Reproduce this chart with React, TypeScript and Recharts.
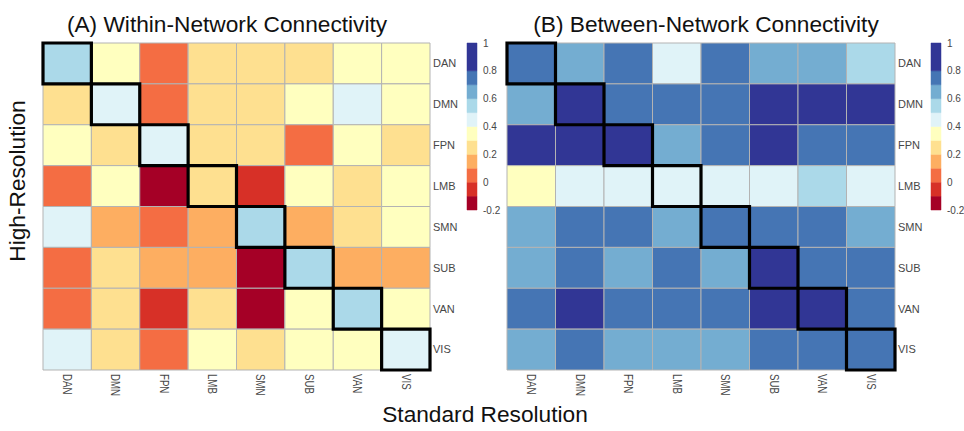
import React from 'react';
import { ComposedChart, XAxis, YAxis, ReferenceArea } from 'recharts';

// ---- Data ----
const networks = ['DAN', 'DMN', 'FPN', 'LMB', 'SMN', 'SUB', 'VAN', 'VIS'];

// (A) Within-Network Connectivity, rows = High-Resolution, cols = Standard Resolution
const withinDAN = [0.55, 0.35, 0.05, 0.25, 0.25, 0.22, 0.35, 0.35];
const withinDMN = [0.25, 0.45, 0.05, 0.25, 0.25, 0.35, 0.45, 0.35];
const withinFPN = [0.35, 0.25, 0.45, 0.25, 0.25, 0.05, 0.35, 0.25];
const withinLMB = [0.05, 0.35, -0.15, 0.25, -0.05, 0.35, 0.25, 0.35];
const withinSMN = [0.45, 0.15, 0.05, 0.15, 0.55, 0.15, 0.25, 0.35];
const withinSUB = [0.05, 0.25, 0.15, 0.15, -0.15, 0.55, 0.15, 0.15];
const withinVAN = [0.05, 0.25, -0.05, 0.25, -0.15, 0.35, 0.55, 0.35];
const withinVIS = [0.45, 0.25, 0.05, 0.35, 0.25, 0.35, 0.35, 0.45];
const withinRows = [withinDAN, withinDMN, withinFPN, withinLMB, withinSMN, withinSUB, withinVAN, withinVIS];

// (B) Between-Network Connectivity
const betweenDAN = [0.75, 0.65, 0.75, 0.45, 0.75, 0.65, 0.65, 0.55];
const betweenDMN = [0.65, 0.9, 0.75, 0.75, 0.75, 0.9, 0.9, 0.9];
const betweenFPN = [0.9, 0.9, 0.9, 0.65, 0.75, 0.9, 0.75, 0.75];
const betweenLMB = [0.35, 0.45, 0.45, 0.45, 0.45, 0.45, 0.55, 0.45];
const betweenSMN = [0.65, 0.75, 0.75, 0.65, 0.75, 0.75, 0.75, 0.65];
const betweenSUB = [0.65, 0.75, 0.65, 0.75, 0.65, 0.9, 0.75, 0.75];
const betweenVAN = [0.75, 0.9, 0.75, 0.75, 0.75, 0.9, 0.9, 0.75];
const betweenVIS = [0.65, 0.75, 0.65, 0.65, 0.65, 0.75, 0.75, 0.75];
const betweenRows = [betweenDAN, betweenDMN, betweenFPN, betweenLMB, betweenSMN, betweenSUB, betweenVAN, betweenVIS];

// Colour scale
const colorBreaks = [-0.2, -0.1, 0, 0.1, 0.2, 0.3, 0.4, 0.5, 0.6, 0.7, 0.8, 1.0];
const colorBands = ['#a50026', '#d73027', '#f46d43', '#fdae61', '#fee090', '#ffffbf', '#e0f3f8', '#abd9e9', '#74add1', '#4575b4', '#313695'];
const colorTicks = [-0.2, 0, 0.2, 0.4, 0.6, 0.8, 1];

const FONT = "'Liberation Sans', Arial, Helvetica, sans-serif";
const LABEL_COLOR = '#474747';

function colorFor(v: number): string {
  for (let i = colorBands.length - 1; i >= 0; i--) {
    if (v >= colorBreaks[i]) return colorBands[i];
  }
  return colorBands[0];
}

const XTick = (props: any) => {
  const { x, y, payload } = props;
  return (
    <text
      x={0}
      y={0}
      transform={`translate(${x} ${y}) rotate(90) scale(0.88 1.1)`}
      textAnchor="start"
      dy="0.35em"
      fontSize={11}
      fill={LABEL_COLOR}
      fontFamily={FONT}
    >
      {networks[Math.floor(payload.value)]}
    </text>
  );
};

const cellTicks = networks.map((_, i) => i + 0.5);

function Heatmap({ rows, width }: { rows: number[][]; width: number }) {
  const cells: React.ReactNode[] = [];
  rows.forEach((row, r) => {
    row.forEach((v, c) => {
      cells.push(
        <ReferenceArea
          key={`c-${r}-${c}`}
          x1={c}
          x2={c + 1}
          y1={r}
          y2={r + 1}
          fill={colorFor(v)}
          fillOpacity={1}
          stroke="#b3b3b3"
          strokeWidth={1}
          ifOverflow="visible"
        />
      );
    });
  });
  const diag = networks.map((_, i) => (
    <ReferenceArea
      key={`d-${i}`}
      x1={i}
      x2={i + 1}
      y1={i}
      y2={i + 1}
      fill="none"
      fillOpacity={0}
      stroke="#000"
      strokeWidth={3.2}
      ifOverflow="visible"
    />
  ));
  return (
    <ComposedChart width={width} height={431} margin={{ top: 43, left: 43, right: 10, bottom: 21 }}>
      <XAxis
        type="number"
        dataKey="x"
        domain={[0, 8]}
        ticks={cellTicks}
        interval={0}
        axisLine={false}
        tickLine={false}
        tickSize={0}
        tickMargin={4}
        height={40}
        tick={<XTick />}
        allowDataOverflow
      />
      <YAxis
        type="number"
        dataKey="y"
        orientation="right"
        reversed
        domain={[0, 8]}
        ticks={cellTicks}
        interval={0}
        axisLine={false}
        tickLine={false}
        tickSize={0}
        tickMargin={3}
        width={40}
        tickFormatter={(v: number) => networks[Math.floor(v)]}
        tick={{ fontSize: 11, fill: LABEL_COLOR, fontFamily: FONT }}
        allowDataOverflow
      />
      {cells}
      {diag}
    </ComposedChart>
  );
}

function ColorBar() {
  return (
    <ComposedChart width={60} height={431} margin={{ top: 43, left: 7, right: 3, bottom: 221 }}>
      <XAxis
        type="number"
        dataKey="x"
        domain={[0, 1]}
        ticks={[0, 1]}
        tick={false}
        axisLine={false}
        tickLine={false}
        height={0}
        allowDataOverflow
      />
      <YAxis
        type="number"
        dataKey="y"
        orientation="right"
        domain={[-0.2, 1]}
        ticks={colorTicks}
        interval={0}
        axisLine={false}
        tickLine={false}
        tickSize={0}
        tickMargin={6}
        width={40}
        tickFormatter={(v: number) => String(v)}
        tick={{ fontSize: 10, fill: LABEL_COLOR, fontFamily: FONT }}
        allowDataOverflow
      />
      {colorBands.map((col, i) => (
        <ReferenceArea
          key={`b-${i}`}
          x1={0}
          x2={1}
          y1={colorBreaks[i]}
          y2={colorBreaks[i + 1]}
          fill={col}
          fillOpacity={1}
          stroke={col}
          strokeWidth={0.5}
          ifOverflow="visible"
        />
      ))}
    </ComposedChart>
  );
}

export default function App() {
  const abs = (left: number): React.CSSProperties => ({ position: 'absolute', left, top: 0 });
  return (
    <div
      style={{
        position: 'absolute',
        left: 0,
        top: 0,
        width: 964,
        height: 431,
        background: '#fff',
        overflow: 'hidden',
        fontFamily: FONT,
      }}
    >
      <div style={abs(0)}>
        <Heatmap rows={withinRows} width={480} />
      </div>
      <div style={abs(464)}>
        <Heatmap rows={betweenRows} width={481} />
      </div>
      <div style={abs(460)}>
        <ColorBar />
      </div>
      <div style={abs(924)}>
        <ColorBar />
      </div>
      <svg
        width={964}
        height={431}
        style={{ position: 'absolute', left: 0, top: 0, pointerEvents: 'none' }}
      >
        <text x={227} y={32} textAnchor="middle" fontSize={22.7} fill="#111" fontFamily={FONT}>
          (A) Within-Network Connectivity
        </text>
        <text x={706} y={32} textAnchor="middle" fontSize={22.7} fill="#111" fontFamily={FONT}>
          (B) Between-Network Connectivity
        </text>
        <text
          x={0}
          y={0}
          transform="translate(25 181) rotate(-90)"
          textAnchor="middle"
          fontSize={22.7}
          fill="#111"
          fontFamily={FONT}
        >
          High-Resolution
        </text>
        <text x={485} y={422} textAnchor="middle" fontSize={22.7} fill="#111" fontFamily={FONT}>
          Standard Resolution
        </text>
      </svg>
    </div>
  );
}
